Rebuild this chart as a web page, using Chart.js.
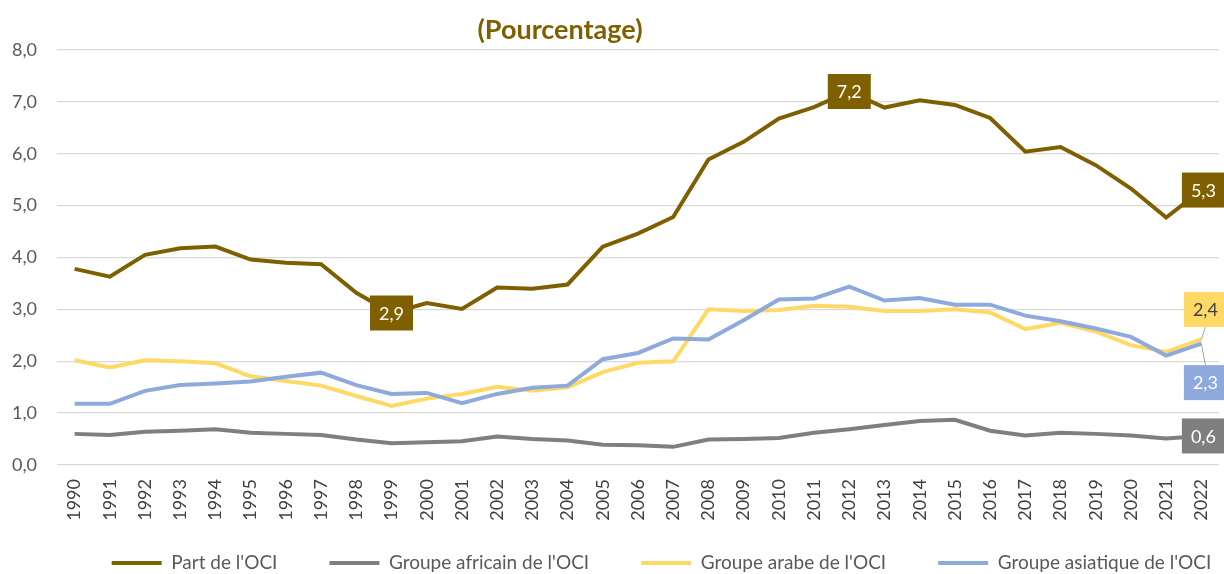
<!DOCTYPE html>
<html>
<head>
<meta charset="utf-8">
<script src="https://cdn.jsdelivr.net/npm/chart.js@4.4.0/dist/chart.umd.min.js"></script>
<style>
  html, body { margin: 0; padding: 0; background: #ffffff; }
  #wrap { width: 1224px; height: 574px; position: relative; }
</style>
</head>
<body>
<div id="wrap"><canvas id="c"></canvas></div>
<script>
// ---- Data ----
const years = ['1990','1991','1992','1993','1994','1995','1996','1997','1998','1999','2000','2001','2002','2003','2004','2005','2006','2007','2008','2009','2010','2011','2012','2013','2014','2015','2016','2017','2018','2019','2020','2021','2022'];
const partOCI = [3.78,3.63,4.05,4.18,4.21,3.96,3.90,3.87,3.32,2.93,3.12,3.01,3.42,3.40,3.48,4.21,4.46,4.78,5.89,6.23,6.68,6.90,7.20,6.89,7.03,6.94,6.69,6.04,6.13,5.78,5.33,4.77,5.30];
const africain = [0.60,0.58,0.64,0.66,0.69,0.62,0.60,0.58,0.49,0.42,0.44,0.46,0.55,0.50,0.47,0.39,0.38,0.35,0.49,0.50,0.52,0.62,0.69,0.77,0.85,0.87,0.66,0.57,0.62,0.60,0.57,0.51,0.56];
const arabe = [2.02,1.88,2.02,2.00,1.96,1.71,1.62,1.53,1.33,1.14,1.28,1.37,1.51,1.43,1.50,1.79,1.97,2.00,3.00,2.97,2.99,3.07,3.05,2.97,2.97,3.00,2.94,2.62,2.74,2.57,2.31,2.18,2.42];
const asiatique = [1.18,1.18,1.43,1.54,1.57,1.61,1.70,1.78,1.54,1.37,1.39,1.19,1.37,1.49,1.53,2.04,2.16,2.44,2.42,2.79,3.19,3.21,3.44,3.17,3.22,3.09,3.09,2.88,2.77,2.63,2.47,2.11,2.34];
const seriesNames = ["Part de l'OCI", "Groupe africain de l'OCI", "Groupe arabe de l'OCI", "Groupe asiatique de l'OCI"];
const yTicks = [0,1,2,3,4,5,6,7,8];
const titleText = '(Pourcentage)';

// ---- Styles ----
const colors = ['#7F6000', '#7F7F7F', '#FFD966', '#8EA9DB'];
const FONT = 'Lato, "Open Sans", sans-serif';
const fmt = v => v.toFixed(1).replace('.', ',');

// labels: dataset index, point index, offsets, text colour, leader
const pointLabels = [
  { ds: 0, idx: 9,  dx: 0, dy: 0,  text: '#FFFFFF', leader: false },
  { ds: 0, idx: 22, dx: 0, dy: 0,  text: '#FFFFFF', leader: false },
  { ds: 0, idx: 32, dx: 2, dy: 0,  text: '#FFFFFF', leader: false },
  { ds: 2, idx: 32, dx: 4, dy: -30, text: '#404040', leader: true },
  { ds: 3, idx: 32, dx: 4, dy: 39, text: '#FFFFFF', leader: true },
  { ds: 1, idx: 32, dx: 2, dy: 0,  text: '#FFFFFF', leader: false }
];

const labelPlugin = {
  id: 'boxLabels',
  afterDatasetsDraw(chart) {
    const ctx = chart.ctx;
    ctx.save();
    ctx.font = '18px ' + FONT;
    ctx.textAlign = 'center';
    ctx.textBaseline = 'middle';
    const w = 43, h = 35;
    pointLabels.forEach(l => {
      const pt = chart.getDatasetMeta(l.ds).data[l.idx];
      const v = chart.data.datasets[l.ds].data[l.idx];
      const cx = pt.x + l.dx, cy = pt.y + l.dy;
      if (l.leader) {
        ctx.strokeStyle = '#A6A6A6';
        ctx.lineWidth = 1;
        ctx.beginPath();
        ctx.moveTo(pt.x, pt.y);
        ctx.lineTo(cx, l.dy < 0 ? cy + h / 2 : cy - h / 2);
        ctx.stroke();
      }
      ctx.fillStyle = colors[l.ds];
      ctx.fillRect(cx - w / 2, cy - h / 2, w, h);
      ctx.fillStyle = l.text;
      ctx.fillText(fmt(v), cx, cy + 1);
    });
    ctx.restore();
  }
};

const titlePlugin = {
  id: 'customTitle',
  afterDraw(chart) {
    const ctx = chart.ctx;
    ctx.save();
    ctx.font = 'bold 27px ' + FONT;
    ctx.fillStyle = '#7F6000';
    ctx.textAlign = 'center';
    ctx.textBaseline = 'alphabetic';
    ctx.fillText(titleText, 560, 39);
    ctx.restore();
  }
};

// place the legend row: first item start and text centre line
const legendShift = {
  id: 'legendShift',
  afterLayout(chart) {
    const l = chart.legend;
    const dx = 52;
    const pad = l.options.labels.padding;
    const fs = l.options.labels.font.size;
    const centreY = 563;
    l.left += dx; l.right += dx;
    l.top = centreY - fs / 2 - pad;
    l.bottom = chart.height;
    l.height = l.bottom - l.top;
  }
};

const datasets = [partOCI, africain, arabe, asiatique].map((d, i) => ({
  label: seriesNames[i],
  data: d,
  borderColor: colors[i],
  backgroundColor: colors[i],
  borderWidth: 4,
  pointRadius: 0,
  tension: 0
}));
// draw order: Part de l'OCI on top, then asiatique, arabe, africain
datasets[0].order = 0;
datasets[1].order = 3;
datasets[2].order = 2;
datasets[3].order = 1;

new Chart(document.getElementById('c'), {
  type: 'line',
  data: { labels: years, datasets },
  plugins: [labelPlugin, titlePlugin, legendShift],
  options: {
    responsive: true,
    maintainAspectRatio: false,
    animation: false,
    devicePixelRatio: 1,
    layout: { padding: { top: 50, left: 0, right: 5, bottom: 0 } },
    plugins: {
      title: { display: false },
      tooltip: { enabled: false },
      legend: {
        position: 'bottom',
        maxHeight: 51,
        labels: {
          usePointStyle: true,
          pointStyle: 'line',
          pointStyleWidth: 50,
          padding: 52,
          color: '#595959',
          font: { family: FONT, size: 19 },
          sort: (a, b) => a.datasetIndex - b.datasetIndex
        }
      }
    },
    scales: {
      x: {
        offset: true,
        grid: { display: false, drawTicks: false },
        border: { display: false },
        ticks: {
          minRotation: 90, maxRotation: 90, padding: 14,
          color: '#404040',
          font: { family: FONT, size: 18 },
          autoSkip: false
        },
        afterFit(scale) { scale.height = 58; scale.paddingLeft = 0; scale.paddingRight = 0; }
      },
      y: {
        min: 0, max: 8,
        afterBuildTicks(scale) { scale.ticks = yTicks.map(v => ({ value: v })); },
        grid: { color: '#D9D9D9', lineWidth: 1.3, drawTicks: false },
        border: { display: false },
        ticks: {
          padding: 20,
          color: '#595959',
          font: { family: FONT, size: 18 },
          callback: v => fmt(v)
        },
        afterFit(scale) { scale.width = 57; }
      }
    }
  }
});
</script>
</body>
</html>
